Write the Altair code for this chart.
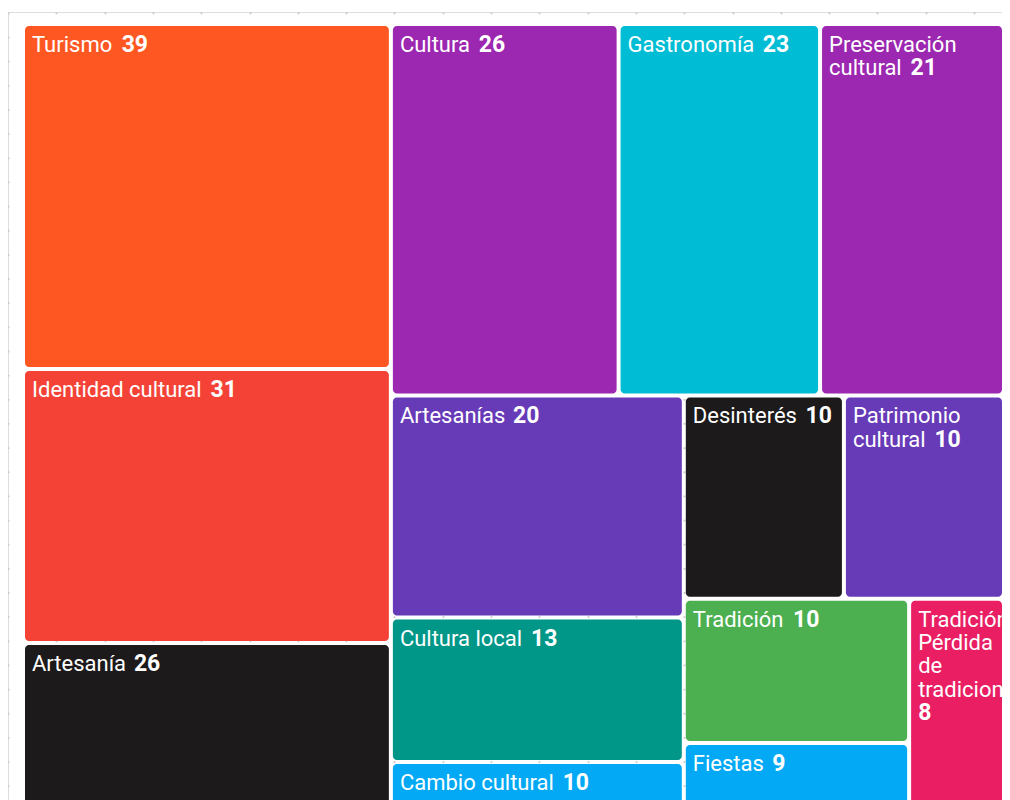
import altair as alt
import pandas as pd

# ---- data ----
names = ["Turismo", "Identidad cultural", "Artesanía", "Cultura", "Gastronomía",
         "Preservación cultural", "Artesanías", "Cultura local", "Cambio cultural",
         "Desinterés", "Patrimonio cultural", "Tradición", "Fiestas",
         "Tradición Pérdida de tradiciones"]
values = [39, 31, 26, 26, 23, 21, 20, 13, 10, 10, 10, 10, 9, 8]
colors = ["#FF5722", "#F44336", "#1C1A1A", "#9C27B0", "#00BCD4", "#9C27B0", "#673AB7",
          "#009688", "#03A9F4", "#1C1A1A", "#673AB7", "#4CAF50", "#03A9F4", "#E91E63"]

# ---- layout parameters (page pixel units) ----
X0, X1, Y0, Y1 = 23.0, 1004.0, 24.0, 873.0
PAD = 2.0
FONT = "Roboto"
FS = 22
FSV = 23
LH = 23.3
PHI = (1 + 5 ** 0.5) / 2
VIEW_LEFT, VIEW_RIGHT = 8, 1002
VIEW_TOP, VIEW_BOTTOM = 12, 800

# approximate Roboto advance widths (1/1000 em)
W = {" ": 248, "a": 544, "b": 561, "c": 523, "d": 564, "e": 530, "f": 347, "g": 561,
     "h": 551, "i": 243, "j": 239, "k": 507, "l": 243, "m": 876, "n": 552, "o": 570,
     "p": 561, "q": 568, "r": 338, "s": 516, "t": 327, "u": 551, "v": 484, "w": 751,
     "x": 496, "y": 473, "z": 496, "á": 544, "é": 530, "í": 243, "ó": 570, "ú": 551,
     "A": 653, "B": 622, "C": 652, "D": 657, "E": 568, "F": 553, "G": 682, "H": 713,
     "I": 272, "P": 631, "T": 597}


def tw(s, fs=FS):
    return sum(W.get(ch, 561) for ch in s) * fs / 1000.0


def squarify(vals, x0, y0, x1, y1):
    """d3.treemapSquarify (golden ratio) on ordered values."""
    out = [None] * len(vals)
    n = len(vals)
    i0 = i1 = 0
    value = float(sum(vals))
    while i0 < n:
        dx, dy = x1 - x0, y1 - y0
        sumv = vals[i1]
        i1 += 1
        minv = maxv = sumv
        alpha = max(dy / dx, dx / dy) / (value * PHI)
        beta = sumv * sumv * alpha
        min_ratio = max(maxv / beta, beta / minv)
        while i1 < n:
            nv = vals[i1]
            sumv += nv
            minv = min(minv, nv)
            maxv = max(maxv, nv)
            beta = sumv * sumv * alpha
            new_ratio = max(maxv / beta, beta / minv)
            if new_ratio > min_ratio:
                sumv -= nv
                break
            min_ratio = new_ratio
            i1 += 1
        idx = list(range(i0, i1))
        if dx < dy:  # dice: row across the top
            ny = y0 + dy * sumv / value
            cx = x0
            for k in idx:
                w = (x1 - x0) * vals[k] / sumv
                out[k] = (cx, y0, cx + w, ny)
                cx += w
            y0 = ny
        else:  # slice: column on the left
            nx = x0 + dx * sumv / value
            cy = y0
            for k in idx:
                h = (y1 - y0) * vals[k] / sumv
                out[k] = (x0, cy, nx, cy + h)
                cy += h
            x0 = nx
        value -= sumv
        i0 = i1
    return out


cells = squarify(values, X0, Y0, X1, Y1)

rows = []
for name, val, col, (a, b, c, d) in zip(names, values, colors, cells):
    x0, y0, x1, y1 = a + PAD, b + PAD, c - PAD, d - PAD
    avail = (x1 - x0) - 14
    words = name.split(" ")
    lines = [words[0]]
    for wd in words[1:]:
        if tw(lines[-1] + " " + wd) <= avail:
            lines[-1] = lines[-1] + " " + wd
        else:
            lines.append(wd)
    vs = str(val)
    if tw(lines[-1] + " ") + tw(vs, FSV) <= avail:
        vline = len(lines) - 1
        vx = x0 + 7 + tw(lines[-1]) + tw(" ") + 3.0
    else:
        vline = len(lines)
        vx = x0 + 7
    rows.append({
        "name": name, "value": val, "color": col,
        "x0": x0, "x1": x1, "y0": y0, "y1": y1,
        "label": "\n".join(lines),
        "tx": x0 + 7, "ty": y0 + 26,
        "vtext": vs, "vx": vx, "vy": y0 + 26 + vline * LH,
    })

df = pd.DataFrame(rows)

xs = alt.Scale(domain=[VIEW_LEFT, VIEW_RIGHT], nice=False, zero=False)
ys = alt.Scale(domain=[VIEW_TOP, VIEW_BOTTOM], nice=False, zero=False, reverse=True)

grid_vals = [8 + 24.15 * k for k in range(42)]

base = alt.Chart(df)

rects = base.mark_rect(cornerRadius=4, clip=True).encode(
    x=alt.X("x0:Q", scale=xs,
            axis=alt.Axis(orient="top", values=grid_vals, grid=True, gridDash=[1.8, 22.35],
                          gridColor="#c9c9c9", gridWidth=1.8, domain=False, ticks=False,
                          labels=False, title=None)),
    x2="x1:Q",
    y=alt.Y("y0:Q", scale=ys, axis=None),
    y2="y1:Q",
    color=alt.Color("color:N", scale=None),
    tooltip=["name:N", "value:Q"],
)

labels = base.mark_text(align="left", baseline="alphabetic", font=FONT, fontSize=FS,
                        color="white", lineBreak="\n", lineHeight=LH, clip=True).encode(
    x=alt.X("tx:Q", scale=xs),
    y=alt.Y("ty:Q", scale=ys),
    text="label:N",
)

nums = base.mark_text(align="left", baseline="alphabetic", font=FONT, fontSize=FSV,
                      fontWeight="bold", color="white", clip=True).encode(
    x=alt.X("vx:Q", scale=xs),
    y=alt.Y("vy:Q", scale=ys),
    text="vtext:N",
)

chart = alt.layer(rects, labels, nums).properties(
    width=VIEW_RIGHT - VIEW_LEFT, height=VIEW_BOTTOM - VIEW_TOP,
    padding={"left": 0, "top": 4, "right": 0, "bottom": 0},
    autosize="none",
).configure_view(fill="#f7f7f7", strokeWidth=0, strokeOpacity=0).configure(background="white")

chart.save("out.html", embed_options={"renderer": "svg", "actions": False})
